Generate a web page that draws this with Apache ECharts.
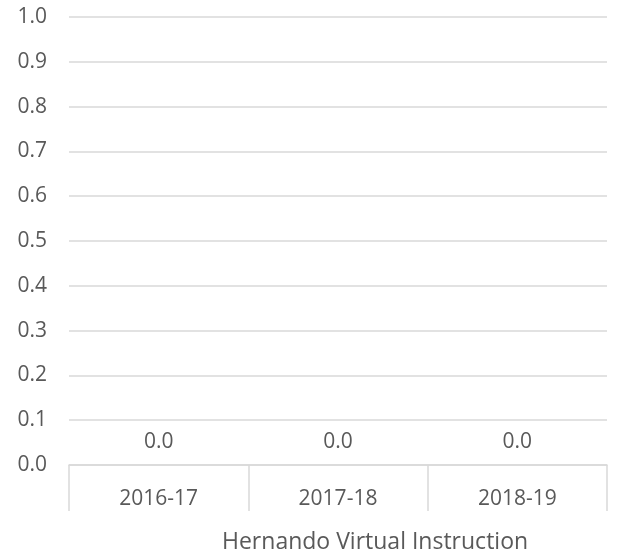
<!DOCTYPE html>
<html><head><meta charset="utf-8">
<script src="https://cdn.jsdelivr.net/npm/echarts@6/dist/echarts.min.js"></script>
<style>html,body{margin:0;padding:0;background:#fff}#c{width:617px;height:556px}</style>
</head><body><div id="c"></div>
<script>
const categories = ['2016-17', '2017-18', '2018-19'];
const values = [0.0, 0.0, 0.0];
const seriesName = 'Hernando Virtual Instruction';
const yTicks = { min: 0, max: 1, interval: 0.1 };

const chart = echarts.init(document.getElementById('c'));
const font = '"Open Sans", sans-serif';
chart.setOption({
  animation: false,
  grid: { left: 69, right: 10, top: 17, bottom: 91, containLabel: false },
  title: {
    text: seriesName, left: 217, top: 526,
    textStyle: { fontFamily: font, fontSize: 23, fontWeight: 'normal', color: '#595959' }
  },
  xAxis: {
    type: 'category', data: categories, boundaryGap: true,
    axisLine: { lineStyle: { color: '#d9d9d9', width: 1.5 } },
    axisTick: { show: true, length: 46, lineStyle: { color: '#d9d9d9', width: 1.5 } },
    axisLabel: { margin: 24, fontFamily: font, fontSize: 21, color: '#595959' }
  },
  yAxis: {
    type: 'value', min: yTicks.min, max: yTicks.max, interval: yTicks.interval,
    axisLine: { show: false }, axisTick: { show: false },
    splitLine: { lineStyle: { color: '#d9d9d9', width: 1.5 } },
    axisLabel: { margin: 22, fontFamily: font, fontSize: 21, color: '#595959',
      formatter: v => v.toFixed(1) }
  },
  series: [{
    name: seriesName, type: 'bar', data: values, barWidth: '60%',
    itemStyle: { color: '#4472c4' },
    label: { show: true, position: 'top', distance: 12, fontFamily: font, fontSize: 21,
      color: '#595959', formatter: p => p.value.toFixed(1) }
  }]
});
</script></body></html>
